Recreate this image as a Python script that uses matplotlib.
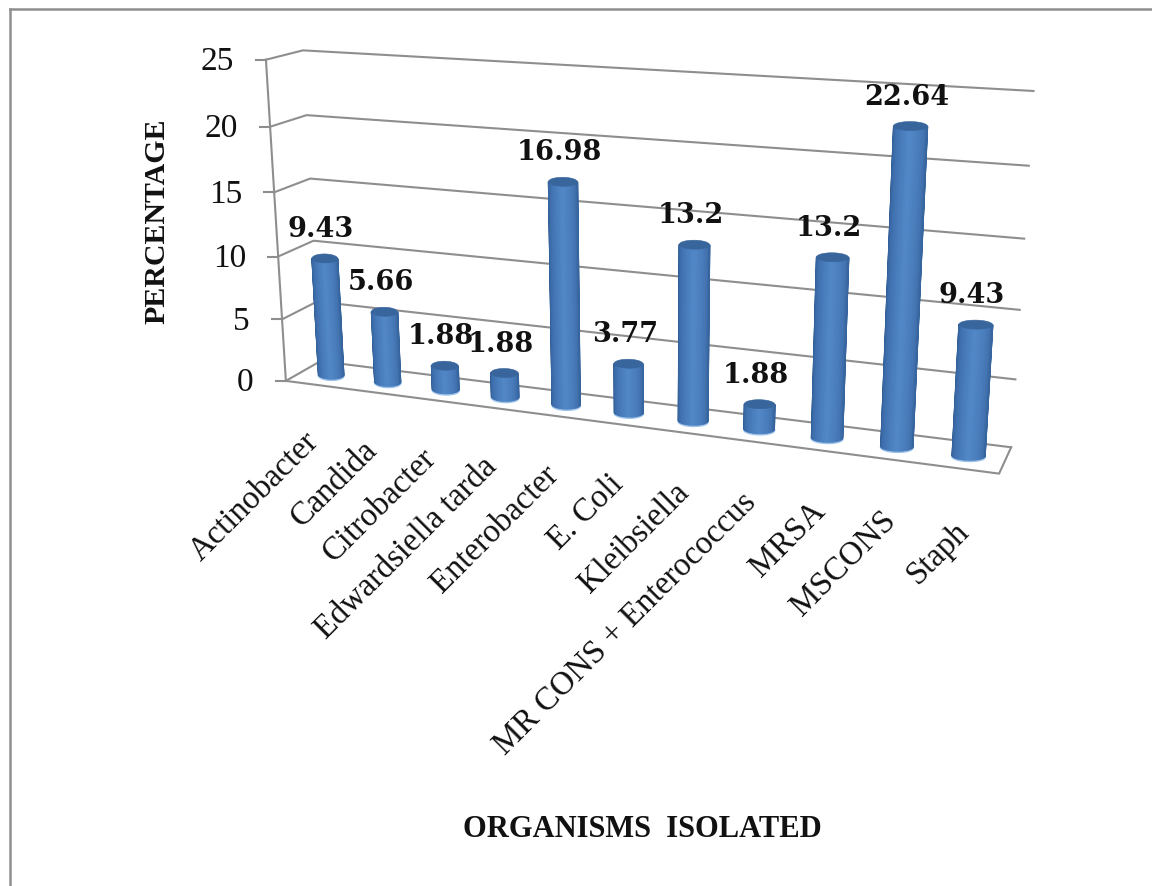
import numpy as np
import matplotlib
matplotlib.use('Agg')
import matplotlib.pyplot as plt
from matplotlib.patches import Polygon
from matplotlib.collections import PolyCollection

categories = ['Actinobacter', 'Candida', 'Citrobacter', 'Edwardsiella tarda', 'Enterobacter',
              'E. Coli', 'Kleibsiella', 'MR CONS + Enterococcus', 'MRSA', 'MSCONS', 'Staph']
values = [9.43, 5.66, 1.88, 1.88, 16.98, 3.77, 13.2, 1.88, 13.2, 22.64, 9.43]
ticks = [0, 5, 10, 15, 20, 25]

GRAY = '#8e8e8e'
SERIF = 'Liberation Serif'

# chart box (u across, v = value, d = depth 0 back 1 front) -> pixels
world = [(0, 0, 0), (0, 25, 0), (1, 25, 0), (1, 0, 0),
         (0, 0, 1), (0, 25, 1), (1, 0, 1), (1, 25, 1),
         (1 / 22, 0, .5), (.5, 0, .5), (21 / 22, 0, .5)]
pixel = [(322, 365), (303, 51), (1033, 90), (1011, 448),
         (286, 381), (266, 60), (1000, 474), (1022, 108),
         (330, 375), (627, 412), (969, 457)]

rows = []
for (u, v, d), (px, py) in zip(world, pixel):
    rows.append([u, v, d, 1, 0, 0, 0, 0, -px * u, -px * v, -px * d, -px])
    rows.append([0, 0, 0, 0, u, v, d, 1, -py * u, -py * v, -py * d, -py])
P = np.linalg.svd(np.array(rows, dtype=float))[2][-1].reshape(3, 4)


def project(u, v, d):
    q = P @ np.array([u, v, d, 1.0])
    return np.array([q[0] / q[2], q[1] / q[2]])


fig = plt.figure(figsize=(11.52, 8.87), dpi=100)
ax = fig.add_axes([0, 0, 1, 1])
ax.set_xlim(0, 1152)
ax.set_ylim(887, 0)
ax.axis('off')

# outer border
ax.plot([10, 10], [887, 10], color=GRAY, lw=1.8)
ax.plot([10, 1152], [10, 10], color=GRAY, lw=1.8)

# walls and floor
for t in ticks:
    a = project(0, t, 1)
    b = project(0, t, 0)
    c = project(1, t, 0)
    ax.plot([a[0], b[0], c[0]], [a[1], b[1], c[1]], color=GRAY, lw=1.5)
    ax.plot([a[0] - 10, a[0]], [a[1], a[1]], color=GRAY, lw=1.5)
    ax.text(a[0] - 32, a[1] + 1, str(t), family=SERIF, fontsize=24, ha='right', va='center', color='#111111')
fl = [project(0, 0, 1), project(1, 0, 1), project(1, 0, 0)]
ax.plot([p[0] for p in fl], [p[1] for p in fl], color=GRAY, lw=1.5)
top = project(0, 25, 1)
bot = project(0, 0, 1)
ax.plot([top[0], bot[0]], [top[1], bot[1]], color=GRAY, lw=1.5)

# cylinders
stops = [0, .18, .5, .8, 1]
reds = [0x2f, 0x3e, 0x52, 0x44, 0x36]
greens = [0x5a, 0x6e, 0x88, 0x75, 0x63]
blues = [0x90, 0xac, 0xc8, 0xb2, 0x9c]
rad_u = .0205
cap_h = 4.5
n = 28
for i, val in enumerate(values):
    u0 = (i + .5) / 11


    def ring(v, angles):
        c = project(u0, v, .5)
        e = project(u0 + rad_u, v, .5) - c
        e[1] = e[1] * .15  # caps are almost level in the original
        return np.array([c + e * np.cos(a) + np.array([0, cap_h * np.sin(a)]) for a in angles])

    th = np.linspace(np.pi, 0, n + 1)
    rt = ring(val, th)
    rb = ring(0, th)
    polys = []
    cols = []
    for k in range(n):
        polys.append([rt[k], rt[k + 1], rb[k + 1], rb[k]])
        f = (k + .5) / n
        cols.append((np.interp(f, stops, reds) / 255, np.interp(f, stops, greens) / 255, np.interp(f, stops, blues) / 255))
    ax.add_collection(PolyCollection(polys, facecolors=cols, edgecolors=cols, linewidths=1.0, zorder=3))
    ax.plot(rb[:, 0], rb[:, 1] + 1.2, color='#9cc2ea', lw=1.4, zorder=2.9)
    cap = ring(val, np.linspace(0, 2 * np.pi, 50))
    ax.add_patch(Polygon(cap, closed=True, facecolor='#38659c', edgecolor='#38659c', lw=.4, zorder=4))
    tx, ty = project(u0, val, .5)
    ax.text(tx - 4, ty - 30, str(val), family='DejaVu Serif', fontweight='bold', fontsize=19.5,
            ha='center', va='center', color='#111111', zorder=5)
    bx, by = project(u0, 0, .5)
    ax.text(bx - 17 + 1.3 * i, by + 62 + .8 * i, categories[i], family=SERIF, fontsize=23.5, rotation=45,
            rotation_mode='anchor', ha='right', va='center', color='#111111')

ax.text(157, 221, 'PERCENTAGE', family=SERIF, fontweight='bold', fontsize=21.5, rotation=90,
        ha='center', va='center', color='#111111')
ax.text(642, 830, 'ORGANISMS  ISOLATED', family=SERIF, fontweight='bold', fontsize=22,
        ha='center', va='center', color='#111111')

fig.savefig('out.png', dpi=100)
